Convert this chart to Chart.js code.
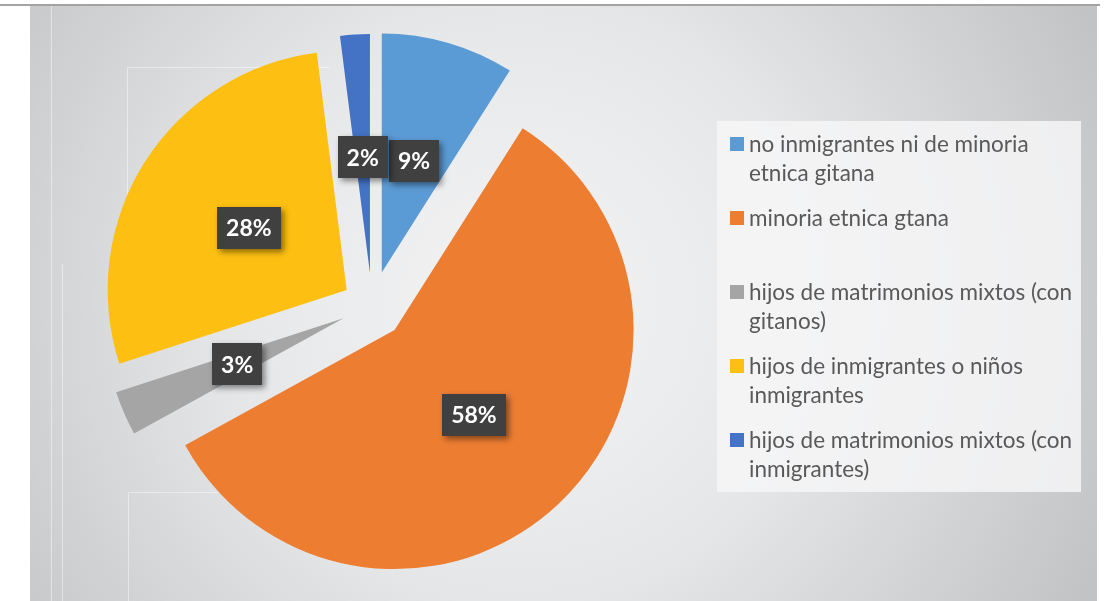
<!DOCTYPE html>
<html>
<head>
<meta charset="utf-8">
<script src="https://cdn.jsdelivr.net/npm/chart.js@4.4.0/dist/chart.umd.min.js"></script>
<style>
  body { margin: 0; background: #fff; }
  #caja { position: relative; width: 1110px; height: 601px; overflow: hidden; }
  #linea { position: absolute; left: 0; top: 4px; width: 1100px; height: 2px; background: #a3a3a3; }
  #leyenda {
    position: absolute; left: 717px; top: 121px; width: 364px; height: 371px;
    background: rgba(246, 246, 247, 0.85);
    font-family: Lato, "Open Sans", sans-serif; font-size: 22.5px; color: #595959;
  }
  .item { position: absolute; left: 13px; width: 350px; display: flex; align-items: flex-start; line-height: 29px; }
  .cuadro { width: 14px; height: 14px; margin-top: 8px; flex: none; }
  .texto { padding-left: 5px; }
</style>
</head>
<body>
<div id="caja">
  <canvas id="grafico" width="1110" height="601"></canvas>
  <div id="linea"></div>
  <div id="leyenda"></div>
</div>
<script>
// datos del grafico
const categorias = [
  'no inmigrantes ni de minoria etnica gitana',
  'minoria etnica gtana',
  'hijos de matrimonios mixtos (con gitanos)',
  'hijos de inmigrantes o niños inmigrantes',
  'hijos de matrimonios mixtos (con inmigrantes)'
];
const valores = [9, 58, 3, 28, 2];
const colores = ['#5b9bd5', '#ed7d31', '#a5a5a5', '#fdbf11', '#4472c4'];
// separacion de cada porcion (px)
const desplazamientos = [35, 33, 31, 30, 33];
const radio = 239;

// fondo gris con degradado
const fondo = {
  id: 'fondo',
  beforeDraw(chart) {
    const ctx = chart.ctx;
    ctx.save();
    const g = ctx.createRadialGradient(520, 300, 0, 520, 300, 640);
    g.addColorStop(0, '#f4f4f5');
    g.addColorStop(0.45, '#e6e7e8');
    g.addColorStop(1, '#c2c3c5');
    ctx.fillStyle = g;
    ctx.fillRect(30, 6, 1067, 595);
    // lineas claras del area de trazado
    ctx.strokeStyle = 'rgba(255,255,255,0.45)';
    ctx.lineWidth = 1;
    ctx.beginPath();
    ctx.moveTo(51.5, 6); ctx.lineTo(51.5, 601);
    ctx.moveTo(128.5, 601); ctx.lineTo(128.5, 492.5); ctx.lineTo(420, 492.5);
    ctx.moveTo(62.5, 601); ctx.lineTo(62.5, 264.5);
    ctx.moveTo(127.5, 330); ctx.lineTo(127.5, 67.5); ctx.lineTo(330, 67.5);
    ctx.stroke();
    ctx.restore();
  },
  // chart.js agranda el radio y recorta el angulo de las porciones separadas, se compensa aqui
  beforeDatasetsDraw(chart) {
    const meta = chart.getDatasetMeta(0);
    const total = valores.reduce((a, b) => a + b, 0);
    let acum = 0;
    meta.data.forEach((arc, i) => {
      const ini = -Math.PI / 2 + 2 * Math.PI * acum / total;
      acum += valores[i];
      const fin = -Math.PI / 2 + 2 * Math.PI * acum / total;
      const fix = 1 - Math.sin(Math.min(Math.PI, fin - ini));
      const extra = desplazamientos[i] * fix;
      arc.outerRadius = radio - extra;
      const recorte = (extra / Math.PI) / radio / 2;
      arc.startAngle = ini - recorte;
      arc.endAngle = fin + recorte;
    });
  }
};

// etiquetas de porcentaje en cajas oscuras
const etiquetas = {
  id: 'etiquetas',
  afterDatasetsDraw(chart) {
    const ctx = chart.ctx;
    const meta = chart.getDatasetMeta(0);
    meta.data.forEach((arc, i) => {
      const ang = (arc.startAngle + arc.endAngle) / 2;
      const dist = desplazamientos[i] + radio * 0.485;
      const x = arc.x + Math.cos(ang) * dist;
      const y = arc.y + Math.sin(ang) * dist;
      const txt = valores[i] + '%';
      ctx.save();
      ctx.font = 'bold 23px Lato, sans-serif';
      const w = ctx.measureText(txt).width + 18;
      const h = 42;
      ctx.shadowColor = 'rgba(0,0,0,0.45)';
      ctx.shadowBlur = 6;
      ctx.shadowOffsetX = 3;
      ctx.shadowOffsetY = 3;
      ctx.fillStyle = '#404040';
      ctx.fillRect(Math.round(x - w / 2), Math.round(y - h / 2), Math.round(w), h);
      ctx.shadowColor = 'transparent';
      ctx.fillStyle = '#ffffff';
      ctx.textAlign = 'center';
      ctx.textBaseline = 'middle';
      ctx.fillText(txt, x, y + 1);
      ctx.restore();
    });
  }
};

const ctx = document.getElementById('grafico').getContext('2d');
const grafico = new Chart(ctx, {
  type: 'pie',
  data: {
    labels: categorias,
    datasets: [{
      data: valores,
      backgroundColor: colores,
      borderWidth: 0,
      // chart.js desplaza offset/4
      offset: desplazamientos.map(d => d * 4)
    }]
  },
  options: {
    responsive: false,
    animation: false,
    radius: radio,
    layout: { padding: { left: 100, right: 466, top: 30, bottom: 19 } },
    plugins: {
      legend: { display: false },
      tooltip: { enabled: false }
    }
  },
  plugins: [fondo, etiquetas]
});

// leyenda en html
const leyenda = document.getElementById('leyenda');
categorias.forEach((c, i) => {
  const item = document.createElement('div');
  item.className = 'item';
  item.style.top = (8 + 74 * i) + 'px';
  item.innerHTML = '<div class="cuadro" style="background:' + colores[i] + '"></div><div class="texto">' + c + '</div>';
  leyenda.appendChild(item);
});
</script>
</body>
</html>
